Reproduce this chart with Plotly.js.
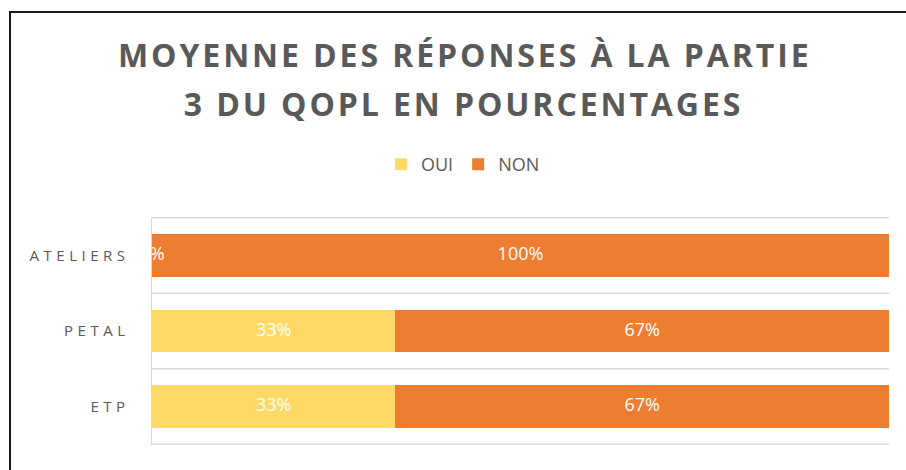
<!DOCTYPE html>
<html>
<head>
<meta charset="utf-8">
<script src="https://cdn.plot.ly/plotly-3.0.1.min.js"></script>
<style>
  html, body { margin: 0; padding: 0; background: #fff; overflow: hidden; }
  #chart { width: 906px; height: 470px; }
  #frame { position: absolute; left: 9px; top: 11px; width: 1000px; height: 600px;
           border: 2px solid #1a1a1a; pointer-events: none; box-sizing: border-box; }
  #chart .gtitle, #chart .annotation-text { letter-spacing: 2.9px; }
  #chart .ytick text { letter-spacing: 4.5px; }
</style>
</head>
<body>
<div id="chart"></div>
<div id="frame"></div>
<script>
const categories = ["ATELIERS", "PETAL", "ETP"];
const oui = [0, 33, 33];
const non = [100, 67, 67];
const seriesNames = ["OUI", "NON"];
const titleLines = ["MOYENNE DES RÉPONSES À LA PARTIE", "3 DU QOPL EN POURCENTAGES"];

const colOui = "#FFD966";
const colNon = "#ED7D31";
const fontFam = "'Open Sans', 'Liberation Sans', sans-serif";
const titleFont = { family: fontFam, size: 32, color: "#595959", weight: 700 };

const traces = [
  { type: "bar", orientation: "h", name: seriesNames[0], y: categories, x: oui,
    marker: { color: colOui }, textposition: "none", hoverinfo: "none" },
  { type: "bar", orientation: "h", name: seriesNames[1], y: categories, x: non,
    marker: { color: colNon }, textposition: "none", hoverinfo: "none" },
  { type: "scatter", mode: "text", showlegend: false, hoverinfo: "none", cliponaxis: false,
    y: categories, x: oui.map(v => v / 2), text: oui.map(v => v + "%"),
    textfont: { color: "#ffffff", size: 18, family: fontFam } },
  { type: "scatter", mode: "text", showlegend: false, hoverinfo: "none", cliponaxis: false,
    y: categories, x: non.map((v, i) => oui[i] + v / 2), text: non.map(v => v + "%"),
    textfont: { color: "#ffffff", size: 18, family: fontFam } }
];

const gridShapes = [-0.5, 0.5, 1.5, 2.5].map(p => ({
  type: "line", xref: "paper", yref: "y", x0: 0, x1: 1, y0: p, y1: p,
  line: { color: "#D9D9D9", width: 1.5 }, layer: "below"
}));

const layout = {
  width: 906, height: 470,
  margin: { l: 152, r: 17, t: 217, b: 25 },
  paper_bgcolor: "#ffffff", plot_bgcolor: "#ffffff",
  barmode: "stack", bargap: 0.44,
  title: {
    text: titleLines[0],
    x: 0.513, xanchor: "center", y: 1 - 56 / 470, yanchor: "middle",
    font: titleFont
  },
  annotations: [{
    text: titleLines[1], xref: "paper", yref: "paper",
    x: (463 - 152) / 737, xanchor: "center", y: 1 + (217 - 103) / 228, yanchor: "middle",
    showarrow: false, font: titleFont
  }],
  legend: {
    orientation: "h", x: (463 - 152) / 737, xanchor: "center", y: 1.23, yanchor: "middle",
    font: { family: fontFam, size: 18, color: "#595959" },
    traceorder: "normal", itemwidth: 30
  },
  xaxis: { range: [0, 100], showgrid: false, showticklabels: false, zeroline: false,
           showline: false, fixedrange: true },
  yaxis: { type: "category", autorange: "reversed", showgrid: false, zeroline: false,
           showline: true, linecolor: "#D9D9D9", linewidth: 1.5,
           ticks: "", ticklabelstandoff: 18,
           tickfont: { family: fontFam, size: 15, color: "#595959" } },
  shapes: gridShapes,
  showlegend: true
};

Plotly.newPlot("chart", traces, layout, { displayModeBar: false, staticPlot: true });
</script>
</body>
</html>
